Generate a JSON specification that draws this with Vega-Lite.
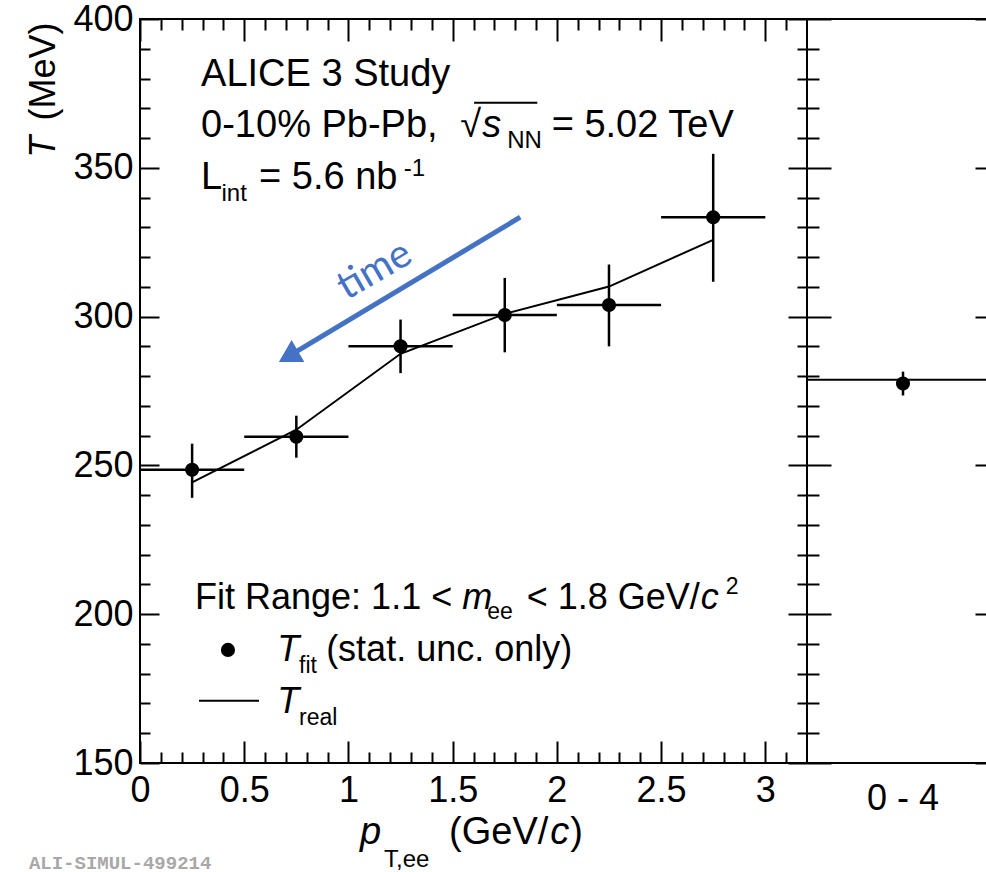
{
  "$schema": "https://vega.github.io/schema/vega-lite/v6.json",
  "background": "white",
  "padding": {"left": 24, "top": 0, "right": 0, "bottom": 0},
  "spacing": 0,
  "bounds": "flush",
  "config": {
    "view": {"stroke": "black", "strokeWidth": 2},
    "font": "Liberation Sans",
    "axis": {"labelFont": "Liberation Sans", "labelColor": "black", "tickColor": "black", "grid": false, "domain": false, "labelFlush": false, "labelOverlap": false}
  },
  "datasets": {
    "fit": [
      {"pt": 0.25, "lo": 0.0, "hi": 0.5, "T": 248.5, "Tlo": 239.1, "Thi": 257.3},
      {"pt": 0.75, "lo": 0.5, "hi": 1.0, "T": 259.6, "Tlo": 252.6, "Thi": 266.7},
      {"pt": 1.25, "lo": 1.0, "hi": 1.5, "T": 290.0, "Tlo": 281.0, "Thi": 299.0},
      {"pt": 1.75, "lo": 1.5, "hi": 2.0, "T": 300.5, "Tlo": 288.0, "Thi": 313.0},
      {"pt": 2.25, "lo": 2.0, "hi": 2.5, "T": 303.9, "Tlo": 290.0, "Thi": 317.5},
      {"pt": 2.75, "lo": 2.5, "hi": 3.0, "T": 333.4, "Tlo": 311.7, "Thi": 354.7}
    ],
    "real": [
      {"pt": 0.25, "T": 244.3},
      {"pt": 0.75, "T": 262.0},
      {"pt": 1.25, "T": 287.5},
      {"pt": 1.75, "T": 300.9},
      {"pt": 2.25, "T": 310.1},
      {"pt": 2.75, "T": 325.8}
    ],
    "arrow": [{"pt": 1.824, "T": 333.4, "pt2": 0.712, "T2": 286.6}],
    "timelabel": [{"pt": 1.125, "T": 315.5, "label": "time"}],
    "legendline": [{"pt": 0.283, "pt2": 0.571, "T": 170.9}],
    "legenddot": [{"pt": 0.422, "T": 188.0}],
    "overline": [{"pt": 1.603, "pt2": 1.906, "T": 371.9}],
    "notes": [
      {"role": "A", "pt": 0.293, "T": 377.6, "text": "ALICE 3 Study"},
      {"role": "A", "pt": 0.293, "T": 360.2, "text": "0-10% Pb-Pb,"},
      {"role": "A", "pt": 1.536, "T": 360.2, "text": "√"},
      {"role": "Ai", "pt": 1.642, "T": 360.2, "text": "s"},
      {"role": "As", "pt": 1.762, "T": 356.5, "text": "NN"},
      {"role": "A", "pt": 1.975, "T": 360.2, "text": "= 5.02 TeV"},
      {"role": "A", "pt": 0.293, "T": 343.0, "text": "L"},
      {"role": "As", "pt": 0.391, "T": 339.0, "text": "int"},
      {"role": "A", "pt": 0.571, "T": 343.0, "text": "= 5.6 nb"},
      {"role": "As", "pt": 1.265, "T": 347.4, "text": "-1"},
      {"role": "L", "pt": 0.264, "T": 201.8, "text": "Fit Range: 1.1 <"},
      {"role": "Li", "pt": 1.546, "T": 201.8, "text": "m"},
      {"role": "Ls", "pt": 1.666, "T": 198.5, "text": "ee"},
      {"role": "L", "pt": 1.855, "T": 201.8, "text": "< 1.8 GeV/"},
      {"role": "Li", "pt": 2.69, "T": 201.8, "text": "c"},
      {"role": "Ls", "pt": 2.81, "T": 206.9, "text": "2"},
      {"role": "Li", "pt": 0.658, "T": 184.4, "text": "T"},
      {"role": "Ls", "pt": 0.763, "T": 180.4, "text": "fit"},
      {"role": "L", "pt": 0.893, "T": 184.4, "text": "(stat. unc. only)"},
      {"role": "Li", "pt": 0.658, "T": 166.9, "text": "T"},
      {"role": "Ls", "pt": 0.763, "T": 162.9, "text": "real"},
      {"role": "Ai", "pt": 1.056, "T": 122.8, "text": "p"},
      {"role": "As", "pt": 1.171, "T": 115.2, "text": "T,ee"},
      {"role": "A", "pt": 1.483, "T": 122.8, "text": "(GeV/"},
      {"role": "Ai", "pt": 1.968, "T": 122.8, "text": "c"},
      {"role": "A", "pt": 2.064, "T": 122.8, "text": ")"},
      {"role": "Yi", "pt": -0.408, "T": 353.4, "text": "T"},
      {"role": "Y", "pt": -0.408, "T": 365.9, "text": "(MeV)"},
      {"role": "wm", "pt": -0.533, "T": 114.5, "text": "ALI-SIMUL-499214"}
    ],
    "right": [{"bin": "0 - 4", "T": 277.5, "Tlo": 273.5, "Thi": 281.5}],
    "rightreal": [{"T": 278.8}]
  },
  "hconcat": [
    {
      "width": 667,
      "height": 744,
      "resolve": {"axis": {"x": "independent", "y": "independent"}},
      "layer": [
        {
          "data": {"name": "fit"},
          "mark": {"type": "rule", "color": "black", "strokeWidth": 2.5},
          "encoding": {
            "x": {"field": "lo", "type": "quantitative", "scale": {"domain": [0, 3.2], "nice": false, "zero": false},
              "axis": {"orient": "bottom", "values": [0, 0.5, 1, 1.5, 2, 2.5, 3], "format": "~g", "ticks": false, "domain": false, "grid": false, "labelFontSize": 36, "labelPadding": 10, "labelFlush": false, "labelOverlap": false, "title": null}},
            "x2": {"field": "hi"},
            "y": {"field": "T", "type": "quantitative", "scale": {"domain": [150, 400], "nice": false, "zero": false},
              "axis": {"orient": "left", "values": [150, 200, 250, 300, 350, 400], "format": "d", "ticks": false, "domain": false, "grid": false, "labelFontSize": 36, "labelPadding": 7, "labelFlush": false, "labelOverlap": false, "title": null}}
          }
        },
        {
          "data": {"name": "fit"},
          "mark": {"type": "rule", "color": "black", "strokeWidth": 2.5},
          "encoding": {
            "x": {"field": "pt", "type": "quantitative", "scale": {"domain": [0, 3.2], "nice": false, "zero": false},
              "axis": {"orient": "bottom", "values": [0, 0.5, 1, 1.5, 2, 2.5, 3], "labels": false, "domain": false, "grid": false, "ticks": true, "tickSize": -22, "tickWidth": 2, "title": null}},
            "y": {"field": "Tlo", "type": "quantitative", "scale": {"domain": [150, 400], "nice": false, "zero": false},
              "axis": {"orient": "left", "values": [150, 200, 250, 300, 350, 400], "labels": false, "domain": false, "grid": false, "ticks": true, "tickSize": -19, "tickWidth": 2, "title": null}},
            "y2": {"field": "Thi"}
          }
        },
        {
          "data": {"name": "real"},
          "mark": {"type": "line", "color": "black", "strokeWidth": 2},
          "encoding": {
            "x": {"field": "pt", "type": "quantitative", "scale": {"domain": [0, 3.2], "nice": false, "zero": false},
              "axis": {"orient": "bottom", "values": [0.1, 0.2, 0.3, 0.4, 0.6, 0.7, 0.8, 0.9, 1.1, 1.2, 1.3, 1.4, 1.6, 1.7, 1.8, 1.9, 2.1, 2.2, 2.3, 2.4, 2.6, 2.7, 2.8, 2.9, 3.1], "labels": false, "domain": false, "grid": false, "ticks": true, "tickSize": -11, "tickWidth": 2, "title": null}},
            "y": {"field": "T", "type": "quantitative", "scale": {"domain": [150, 400], "nice": false, "zero": false},
              "axis": {"orient": "left", "values": [160, 170, 180, 190, 210, 220, 230, 240, 260, 270, 280, 290, 310, 320, 330, 340, 360, 370, 380, 390], "labels": false, "domain": false, "grid": false, "ticks": true, "tickSize": -10, "tickWidth": 2, "title": null}}
          }
        },
        {
          "data": {"name": "fit"},
          "mark": {"type": "point", "shape": "circle", "filled": true, "size": 200, "color": "black", "opacity": 1},
          "encoding": {
            "x": {"field": "pt", "type": "quantitative", "scale": {"domain": [0, 3.2], "nice": false, "zero": false},
              "axis": {"orient": "top", "values": [0, 0.5, 1, 1.5, 2, 2.5, 3], "labels": false, "domain": false, "grid": false, "ticks": true, "tickSize": -22, "tickWidth": 2, "title": null}},
            "y": {"field": "T", "type": "quantitative", "scale": {"domain": [150, 400], "nice": false, "zero": false},
              "axis": {"orient": "right", "values": [150, 200, 250, 300, 350, 400], "labels": false, "domain": false, "grid": false, "ticks": true, "tickSize": -19, "tickWidth": 2, "title": null}}
          }
        },
        {
          "data": {"name": "arrow"},
          "mark": {"type": "rule", "color": "#4472C4", "strokeWidth": 5},
          "encoding": {
            "x": {"field": "pt", "type": "quantitative", "scale": {"domain": [0, 3.2], "nice": false, "zero": false},
              "axis": {"orient": "top", "values": [0.1, 0.2, 0.3, 0.4, 0.6, 0.7, 0.8, 0.9, 1.1, 1.2, 1.3, 1.4, 1.6, 1.7, 1.8, 1.9, 2.1, 2.2, 2.3, 2.4, 2.6, 2.7, 2.8, 2.9, 3.1], "labels": false, "domain": false, "grid": false, "ticks": true, "tickSize": -11, "tickWidth": 2, "title": null}},
            "y": {"field": "T", "type": "quantitative", "scale": {"domain": [150, 400], "nice": false, "zero": false},
              "axis": {"orient": "right", "values": [160, 170, 180, 190, 210, 220, 230, 240, 260, 270, 280, 290, 310, 320, 330, 340, 360, 370, 380, 390], "labels": false, "domain": false, "grid": false, "ticks": true, "tickSize": -10, "tickWidth": 2, "title": null}},
            "x2": {"field": "pt2"},
            "y2": {"field": "T2"}
          }
        },
        {
          "data": {"name": "arrow"},
          "mark": {"type": "point", "shape": "triangle-up", "filled": true, "size": 650, "angle": 240, "color": "#4472C4", "opacity": 1},
          "encoding": {
            "x": {"field": "pt2", "type": "quantitative", "scale": {"domain": [0, 3.2], "nice": false, "zero": false}, "axis": null},
            "y": {"field": "T2", "type": "quantitative", "scale": {"domain": [150, 400], "nice": false, "zero": false}, "axis": null}
          }
        },
        {
          "data": {"name": "timelabel"},
          "mark": {"type": "text", "font": "Lato", "fontSize": 40, "color": "#4472C4", "angle": 330, "align": "center", "baseline": "middle"},
          "encoding": {
            "x": {"field": "pt", "type": "quantitative", "scale": {"domain": [0, 3.2], "nice": false, "zero": false}, "axis": null},
            "y": {"field": "T", "type": "quantitative", "scale": {"domain": [150, 400], "nice": false, "zero": false}, "axis": null},
            "text": {"field": "label"}
          }
        },
        {
          "data": {"name": "legendline"},
          "mark": {"type": "rule", "color": "black", "strokeWidth": 2},
          "encoding": {
            "x": {"field": "pt", "type": "quantitative", "scale": {"domain": [0, 3.2], "nice": false, "zero": false}, "axis": null},
            "x2": {"field": "pt2"},
            "y": {"field": "T", "type": "quantitative", "scale": {"domain": [150, 400], "nice": false, "zero": false}, "axis": null}
          }
        },
        {
          "data": {"name": "overline"},
          "mark": {"type": "rule", "color": "black", "strokeWidth": 2},
          "encoding": {
            "x": {"field": "pt", "type": "quantitative", "scale": {"domain": [0, 3.2], "nice": false, "zero": false}, "axis": null},
            "x2": {"field": "pt2"},
            "y": {"field": "T", "type": "quantitative", "scale": {"domain": [150, 400], "nice": false, "zero": false}, "axis": null}
          }
        },
        {
          "data": {"name": "legenddot"},
          "mark": {"type": "point", "shape": "circle", "filled": true, "size": 200, "color": "black", "opacity": 1},
          "encoding": {
            "x": {"field": "pt", "type": "quantitative", "scale": {"domain": [0, 3.2], "nice": false, "zero": false}, "axis": null},
            "y": {"field": "T", "type": "quantitative", "scale": {"domain": [150, 400], "nice": false, "zero": false}, "axis": null}
          }
        },
        {
          "data": {"name": "notes"},
          "transform": [{"filter": "datum.role == 'A'"}],
          "mark": {"type": "text", "font": "Liberation Sans", "fontSize": 38, "color": "black", "align": "left", "baseline": "alphabetic"},
          "encoding": {
            "x": {"field": "pt", "type": "quantitative", "scale": {"domain": [0, 3.2], "nice": false, "zero": false}, "axis": null},
            "y": {"field": "T", "type": "quantitative", "scale": {"domain": [150, 400], "nice": false, "zero": false}, "axis": null},
            "text": {"field": "text"}
          }
        },
        {
          "data": {"name": "notes"},
          "transform": [{"filter": "datum.role == 'Ai'"}],
          "mark": {"type": "text", "font": "Liberation Sans", "fontSize": 38, "fontStyle": "italic", "color": "black", "align": "left", "baseline": "alphabetic"},
          "encoding": {
            "x": {"field": "pt", "type": "quantitative", "scale": {"domain": [0, 3.2], "nice": false, "zero": false}, "axis": null},
            "y": {"field": "T", "type": "quantitative", "scale": {"domain": [150, 400], "nice": false, "zero": false}, "axis": null},
            "text": {"field": "text"}
          }
        },
        {
          "data": {"name": "notes"},
          "transform": [{"filter": "datum.role == 'As'"}],
          "mark": {"type": "text", "font": "Liberation Sans", "fontSize": 24, "color": "black", "align": "left", "baseline": "alphabetic"},
          "encoding": {
            "x": {"field": "pt", "type": "quantitative", "scale": {"domain": [0, 3.2], "nice": false, "zero": false}, "axis": null},
            "y": {"field": "T", "type": "quantitative", "scale": {"domain": [150, 400], "nice": false, "zero": false}, "axis": null},
            "text": {"field": "text"}
          }
        },
        {
          "data": {"name": "notes"},
          "transform": [{"filter": "datum.role == 'L'"}],
          "mark": {"type": "text", "font": "Liberation Sans", "fontSize": 36, "color": "black", "align": "left", "baseline": "alphabetic"},
          "encoding": {
            "x": {"field": "pt", "type": "quantitative", "scale": {"domain": [0, 3.2], "nice": false, "zero": false}, "axis": null},
            "y": {"field": "T", "type": "quantitative", "scale": {"domain": [150, 400], "nice": false, "zero": false}, "axis": null},
            "text": {"field": "text"}
          }
        },
        {
          "data": {"name": "notes"},
          "transform": [{"filter": "datum.role == 'Li'"}],
          "mark": {"type": "text", "font": "Liberation Sans", "fontSize": 36, "fontStyle": "italic", "color": "black", "align": "left", "baseline": "alphabetic"},
          "encoding": {
            "x": {"field": "pt", "type": "quantitative", "scale": {"domain": [0, 3.2], "nice": false, "zero": false}, "axis": null},
            "y": {"field": "T", "type": "quantitative", "scale": {"domain": [150, 400], "nice": false, "zero": false}, "axis": null},
            "text": {"field": "text"}
          }
        },
        {
          "data": {"name": "notes"},
          "transform": [{"filter": "datum.role == 'Ls'"}],
          "mark": {"type": "text", "font": "Liberation Sans", "fontSize": 23, "color": "black", "align": "left", "baseline": "alphabetic"},
          "encoding": {
            "x": {"field": "pt", "type": "quantitative", "scale": {"domain": [0, 3.2], "nice": false, "zero": false}, "axis": null},
            "y": {"field": "T", "type": "quantitative", "scale": {"domain": [150, 400], "nice": false, "zero": false}, "axis": null},
            "text": {"field": "text"}
          }
        },
        {
          "data": {"name": "notes"},
          "transform": [{"filter": "datum.role == 'Y'"}],
          "mark": {"type": "text", "font": "Liberation Sans", "fontSize": 36, "angle": 270, "color": "black", "align": "left", "baseline": "alphabetic"},
          "encoding": {
            "x": {"field": "pt", "type": "quantitative", "scale": {"domain": [0, 3.2], "nice": false, "zero": false}, "axis": null},
            "y": {"field": "T", "type": "quantitative", "scale": {"domain": [150, 400], "nice": false, "zero": false}, "axis": null},
            "text": {"field": "text"}
          }
        },
        {
          "data": {"name": "notes"},
          "transform": [{"filter": "datum.role == 'Yi'"}],
          "mark": {"type": "text", "font": "Liberation Sans", "fontSize": 36, "fontStyle": "italic", "angle": 270, "color": "black", "align": "left", "baseline": "alphabetic"},
          "encoding": {
            "x": {"field": "pt", "type": "quantitative", "scale": {"domain": [0, 3.2], "nice": false, "zero": false}, "axis": null},
            "y": {"field": "T", "type": "quantitative", "scale": {"domain": [150, 400], "nice": false, "zero": false}, "axis": null},
            "text": {"field": "text"}
          }
        },
        {
          "data": {"name": "notes"},
          "transform": [{"filter": "datum.role == 'wm'"}],
          "mark": {"type": "text", "font": "Liberation Mono", "fontSize": 19, "fontWeight": "bold", "color": "#a8a8a8", "align": "left", "baseline": "alphabetic"},
          "encoding": {
            "x": {"field": "pt", "type": "quantitative", "scale": {"domain": [0, 3.2], "nice": false, "zero": false}, "axis": null},
            "y": {"field": "T", "type": "quantitative", "scale": {"domain": [150, 400], "nice": false, "zero": false}, "axis": null},
            "text": {"field": "text"}
          }
        }
      ]
    },
    {
      "width": 192,
      "height": 744,
      "resolve": {"axis": {"x": "independent", "y": "independent"}},
      "layer": [
        {
          "data": {"name": "rightreal"},
          "mark": {"type": "rule", "color": "black", "strokeWidth": 2},
          "encoding": {
            "y": {"field": "T", "type": "quantitative", "scale": {"domain": [150, 400], "nice": false, "zero": false},
              "axis": {"orient": "left", "values": [150, 200, 250, 300, 350, 400], "labels": false, "domain": false, "grid": false, "ticks": true, "tickSize": -24, "tickWidth": 2, "title": null}}
          }
        },
        {
          "data": {"name": "right"},
          "mark": {"type": "rule", "color": "black", "strokeWidth": 2.5},
          "encoding": {
            "x": {"field": "bin", "type": "nominal",
              "axis": {"orient": "bottom", "ticks": false, "domain": false, "grid": false, "labelAngle": 0, "labelFontSize": 36, "labelPadding": 18, "title": null}},
            "y": {"field": "Tlo", "type": "quantitative", "scale": {"domain": [150, 400], "nice": false, "zero": false},
              "axis": {"orient": "left", "values": [160, 170, 180, 190, 210, 220, 230, 240, 260, 270, 280, 290, 310, 320, 330, 340, 360, 370, 380, 390], "labels": false, "domain": false, "grid": false, "ticks": true, "tickSize": -12, "tickWidth": 2, "title": null}},
            "y2": {"field": "Thi"}
          }
        },
        {
          "data": {"name": "right"},
          "mark": {"type": "point", "shape": "circle", "filled": true, "size": 200, "color": "black", "opacity": 1},
          "encoding": {
            "x": {"field": "bin", "type": "nominal", "axis": null},
            "y": {"field": "T", "type": "quantitative", "scale": {"domain": [150, 400], "nice": false, "zero": false},
              "axis": {"orient": "right", "values": [150, 200, 250, 300, 350, 400], "labels": false, "domain": false, "grid": false, "ticks": true, "tickSize": -24, "tickWidth": 2, "title": null}}
          }
        }
      ]
    }
  ]
}
